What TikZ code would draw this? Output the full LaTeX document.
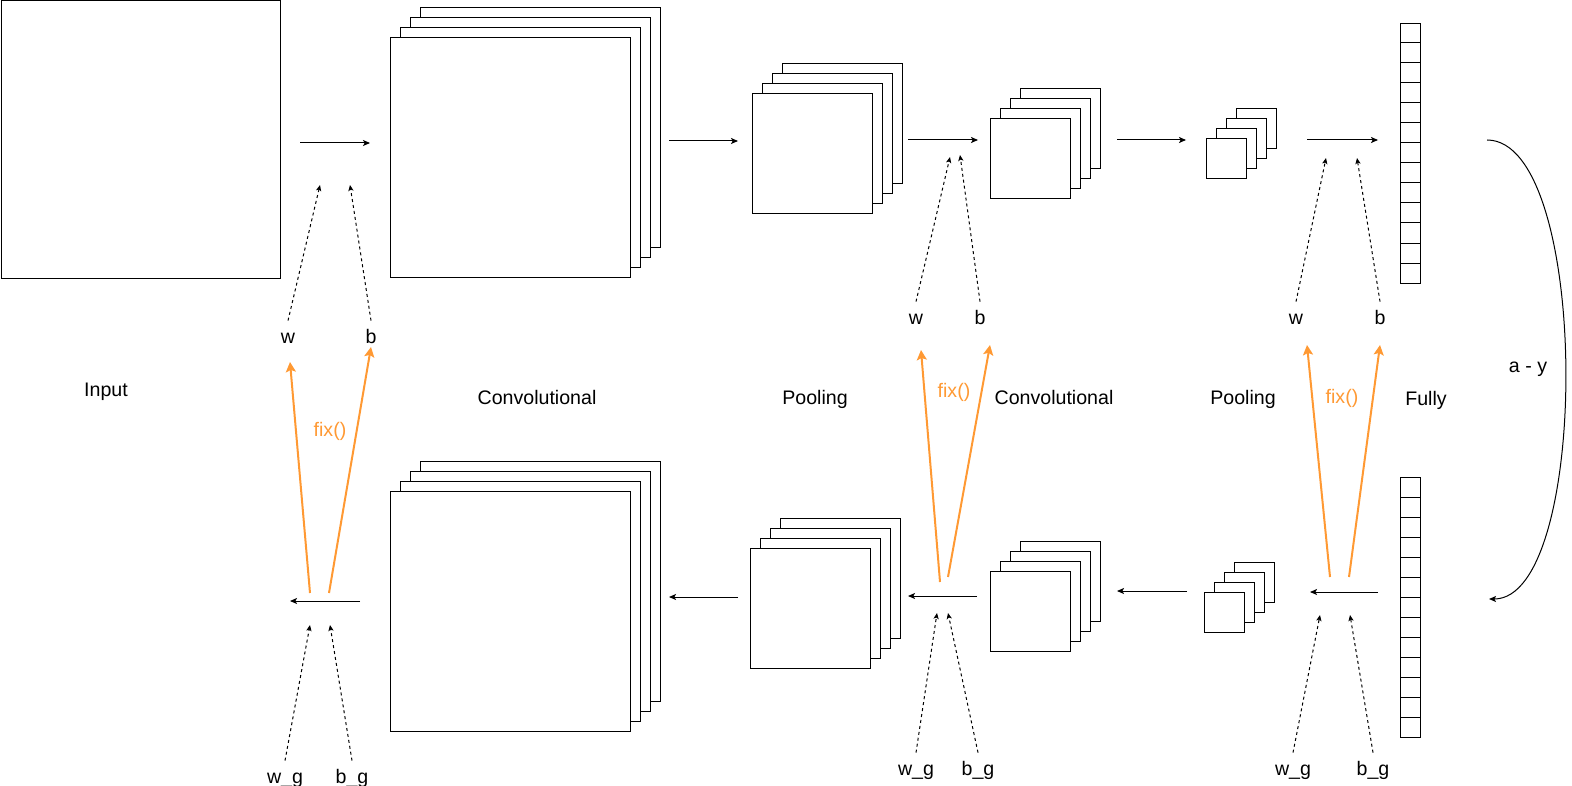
\documentclass[tikz,border=0pt]{standalone}
\usepackage{fontspec}
\setmainfont{Liberation Sans}
\usetikzlibrary{arrows.meta, positioning}
\definecolor{fixorange}{HTML}{FF9933}

\tikzset{
  fmap/.style={rectangle, draw=black, fill=white, line width=0.5pt, inner sep=0pt, anchor=north west},
  lbl/.style={font=\fontsize{9.8}{12}\selectfont, inner sep=0pt, anchor=base, text height=11pt, text depth=2pt},
  flow/.style={line width=0.5pt, -{Stealth[length=3.5pt, width=3pt, inset=0.8pt]}},
  param/.style={line width=0.5pt, dash pattern=on 1.5pt off 1.5pt, -{Stealth[length=3pt, width=2.6pt, inset=0.7pt]}},
  fix/.style={line width=1pt, draw=fixorange, -{Stealth[length=5pt, width=5pt, inset=1pt]}}
}

% stack of four feature maps: name, x, y (front top left), size
\newcommand{\fmapstack}[4]{%
  \foreach \k in {3,2,1,0}
    \node[fmap, minimum width=#4*0.5pt, minimum height=#4*0.5pt] (#1\k) at ({#2+10*\k},{#3-10*\k}) {};
}
% fully connected column of 13 cells
\newcommand{\fvector}[3]{%
  \node[fmap, minimum width=10pt, minimum height=130pt] (#1) at (#2,#3) {};
  \foreach \i in {1,...,12}
    \draw[line width=0.5pt] ([yshift=-10pt*\i]#1.north west) -- ([yshift=-10pt*\i]#1.north east);
}

\begin{document}
\begin{tikzpicture}[x=0.5pt, y=-0.5pt]
\useasboundingbox (0,0) rectangle (1572,786);

% forward row
\node[fmap, minimum width=139.5pt, minimum height=138.5pt] (input) at (0.5,0.5) {};
\fmapstack{convA}{390}{37}{240}
\fmapstack{poolA}{752}{93}{120}
\fmapstack{convB}{990}{118}{80}
\fmapstack{poolB}{1206}{138}{40}
\fvector{fullyA}{1400}{23}

% backward row
\fmapstack{gconvA}{390}{491}{240}
\fmapstack{gpoolA}{750}{548}{120}
\fmapstack{gconvB}{990}{571}{80}
\fmapstack{gpoolB}{1204}{592}{40}
\fvector{gfullyA}{1400}{477}

\node[lbl] (inputlbl) at (106,396) {Input};
\node[lbl] (convAlbl) at (537,404) {Convolutional};
\node[lbl] (poolAlbl) at (815,404) {Pooling};
\node[lbl] (convBlbl) at (1054,404) {Convolutional};
\node[lbl] (poolBlbl) at (1243,404) {Pooling};
\node[lbl] (fullylbl) at (1426,405) {Fully};
\node[lbl] (aylbl) at (1528,372) {a - y};

\node[lbl] (w1) at (288,343) {w};
\node[lbl] (b1) at (371,343) {b};
\node[lbl] (w2) at (916,324) {w};
\node[lbl] (b2) at (980,324) {b};
\node[lbl] (w3) at (1296,324) {w};
\node[lbl] (b3) at (1380,324) {b};
\node[lbl] (wg1) at (285,783) {w\_g};
\node[lbl] (bg1) at (352,783) {b\_g};
\node[lbl] (wg2) at (916,775) {w\_g};
\node[lbl] (bg2) at (978,775) {b\_g};
\node[lbl] (wg3) at (1293,775) {w\_g};
\node[lbl] (bg3) at (1373,775) {b\_g};

\node[lbl, text=fixorange] (fix1) at (330,436) {fix()};
\node[lbl, text=fixorange] (fix2) at (954,397) {fix()};
\node[lbl, text=fixorange] (fix3) at (1342,403) {fix()};

% forward arrows
\coordinate (f0s) at (300,143); \coordinate (f0e) at (370,143);
\coordinate (f1s) at (669,141); \coordinate (f1e) at (738,141);
\coordinate (f2s) at (908,140); \coordinate (f2e) at (978,140);
\coordinate (f3s) at (1117,140); \coordinate (f3e) at (1186,140);
\coordinate (f4s) at (1307,140); \coordinate (f4e) at (1378,140);
\draw[flow] (f0s) -- (f0e);
\draw[flow] (f1s) -- (f1e);
\draw[flow] (f2s) -- (f2e);
\draw[flow] (f3s) -- (f3e);
\draw[flow] (f4s) -- (f4e);

% backward arrows
\coordinate (g0s) at (360,601); \coordinate (g0e) at (290,601);
\coordinate (g1s) at (738,597); \coordinate (g1e) at (669,597);
\coordinate (g2s) at (977,596); \coordinate (g2e) at (908,596);
\coordinate (g3s) at (1187,591); \coordinate (g3e) at (1117,591);
\coordinate (g4s) at (1378,592); \coordinate (g4e) at (1310,592);
\draw[flow] (g0s) -- (g0e);
\draw[flow] (g1s) -- (g1e);
\draw[flow] (g2s) -- (g2e);
\draw[flow] (g3s) -- (g3e);
\draw[flow] (g4s) -- (g4e);

% weights and biases
\coordinate (w1t) at (320,185); \coordinate (b1t) at (350,185);
\coordinate (w2t) at (950,157); \coordinate (b2t) at (960,155);
\coordinate (w3t) at (1326,158); \coordinate (b3t) at (1357,158);
\coordinate (wg1t) at (310,625); \coordinate (bg1t) at (330,625);
\coordinate (wg2t) at (937,613); \coordinate (bg2t) at (948,613);
\coordinate (wg3t) at (1320,615); \coordinate (bg3t) at (1350,615);
\draw[param] (w1.north) -- (w1t);
\draw[param] (b1.north) -- (b1t);
\draw[param] (w2.north) -- (w2t);
\draw[param] (b2.north) -- (b2t);
\draw[param] (w3.north) -- (w3t);
\draw[param] (b3.north) -- (b3t);
\draw[param] (wg1.north) -- (wg1t);
\draw[param] (bg1.north) -- (bg1t);
\draw[param] (wg2.north) -- (wg2t);
\draw[param] (bg2.north) -- (bg2t);
\draw[param] (wg3.north) -- (wg3t);
\draw[param] (bg3.north) -- (bg3t);

% updates
\coordinate (u1ws) at (310,593); \coordinate (u1we) at (290,362);
\coordinate (u1bs) at (329,593); \coordinate (u1be) at (371,347);
\coordinate (u2ws) at (940,582); \coordinate (u2we) at (921,350);
\coordinate (u2bs) at (948,577); \coordinate (u2be) at (990,345);
\coordinate (u3ws) at (1330,577); \coordinate (u3we) at (1307,345);
\coordinate (u3bs) at (1349,577); \coordinate (u3be) at (1380,345);
\draw[fix] (u1ws) -- (u1we);
\draw[fix] (u1bs) -- (u1be);
\draw[fix] (u2ws) -- (u2we);
\draw[fix] (u2bs) -- (u2be);
\draw[fix] (u3ws) -- (u3we);
\draw[fix] (u3bs) -- (u3be);

% loss
\coordinate (lossS) at (1487,140);
\coordinate (lossE) at (1489,599);
\draw[flow] (lossS) .. controls (1591,140) and (1591,599) .. (lossE);
\end{tikzpicture}
\end{document}
